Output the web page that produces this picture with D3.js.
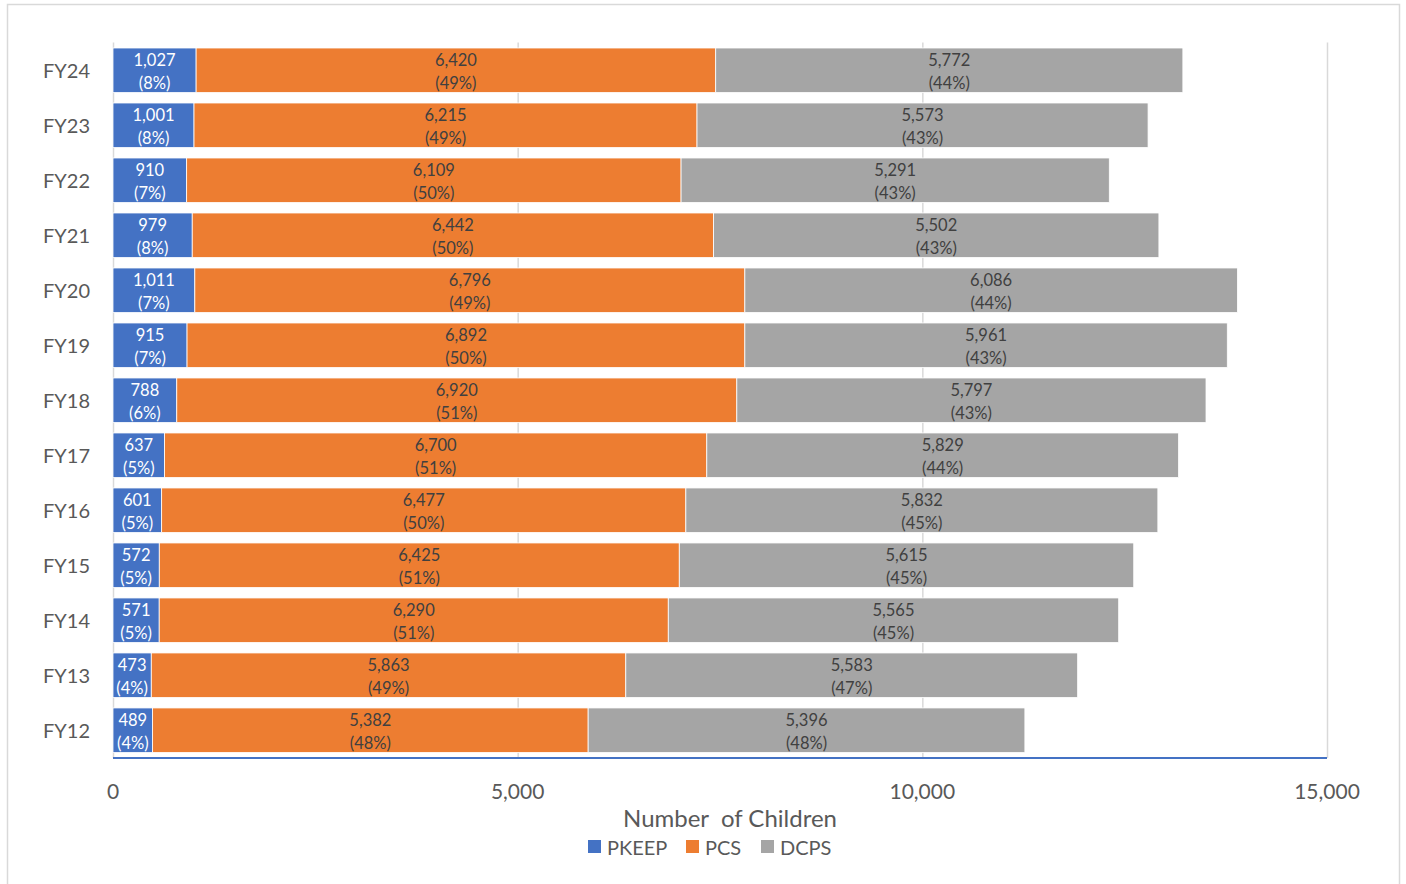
<!DOCTYPE html>
<html>
<head>
<meta charset="utf-8">
<script src="https://cdn.jsdelivr.net/npm/d3@7"></script>
<style>
  html, body { margin: 0; padding: 0; background: #fff; }
  svg { display: block; font-family: Lato, "Open Sans", sans-serif; }
</style>
</head>
<body>
<svg id="chart" width="1406" height="884"></svg>
<script>
// Fiscal years, top to bottom
const years = ["FY24","FY23","FY22","FY21","FY20","FY19","FY18","FY17","FY16","FY15","FY14","FY13","FY12"];
// Number of children by sector
const pkeep = [1027, 1001, 910, 979, 1011, 915, 788, 637, 601, 572, 571, 473, 489];
const pcs   = [6420, 6215, 6109, 6442, 6796, 6892, 6920, 6700, 6477, 6425, 6290, 5863, 5382];
const dcps  = [5772, 5573, 5291, 5502, 6086, 5961, 5797, 5829, 5832, 5615, 5565, 5583, 5396];
// Share of total, as reported
const pkeepPct = [8, 8, 7, 8, 7, 7, 6, 5, 5, 5, 5, 4, 4];
const pcsPct   = [49, 49, 50, 50, 49, 50, 51, 51, 50, 51, 51, 49, 48];
const dcpsPct  = [44, 43, 43, 43, 44, 43, 43, 44, 45, 45, 45, 47, 48];
const xTicks = [0, 5000, 10000, 15000];
const seriesNames = ["PKEEP", "PCS", "DCPS"];
const seriesColors = ["#4472C4", "#ED7D31", "#A5A5A5"];

const svg = d3.select("#chart");

// Outer chart frame
svg.append("rect")
  .attr("x", 7.5).attr("y", 4.5).attr("width", 1392).attr("height", 900)
  .attr("fill", "#fff").attr("stroke", "#d9d9d9").attr("stroke-width", 1.5);

const plotLeft = 113, plotRight = 1327, plotTop = 42.5, plotBottom = 758;

const x = d3.scaleLinear().domain([0, 15000]).range([plotLeft, plotRight]);
const y = d3.scaleBand().domain(years).range([plotTop, plotBottom]).paddingInner(0.19).paddingOuter(0.1);

// Vertical gridlines
svg.append("g").selectAll("line").data(xTicks).join("line")
  .attr("x1", d => x(d) + 0.5).attr("x2", d => x(d) + 0.5)
  .attr("y1", plotTop).attr("y2", plotBottom)
  .attr("stroke", "#d9d9d9").attr("stroke-width", 1.5);

// Stacked rows
const rows = years.map((yr, i) => ({
  year: yr,
  segs: [
    { v: pkeep[i], p: pkeepPct[i], s: 0 },
    { v: pcs[i], p: pcsPct[i], s: 1 },
    { v: dcps[i], p: dcpsPct[i], s: 2 }
  ]
}));
rows.forEach(r => {
  let acc = 0;
  r.segs.forEach(s => { s.x0 = acc; acc += s.v; s.x1 = acc; });
});

const fmt = d3.format(",");

const rowG = svg.append("g").selectAll("g").data(rows).join("g");

rowG.selectAll("rect").data(r => r.segs.map(s => ({ ...s, year: r.year }))).join("rect")
  .attr("x", d => x(d.x0)).attr("width", d => x(d.x1) - x(d.x0))
  .attr("y", d => y(d.year)).attr("height", y.bandwidth())
  .attr("fill", d => seriesColors[d.s])
  .attr("stroke", "#fff").attr("stroke-width", 0.8);

const labelG = rowG.selectAll("g.lbl").data(r => r.segs.map(s => ({ ...s, year: r.year }))).join("g")
  .attr("class", "lbl")
  .attr("transform", d => `translate(${(x(d.x0) + x(d.x1)) / 2},${y(d.year) + y.bandwidth() / 2})`)
  .attr("fill", d => d.s === 0 ? "#fff" : "#404040")
  .attr("font-size", 16.5).attr("text-anchor", "middle");

labelG.append("text").attr("y", -10).attr("dominant-baseline", "central").text(d => fmt(d.v));
labelG.append("text").attr("y", 13).attr("dominant-baseline", "central").text(d => `(${d.p}%)`);

// Category labels
svg.append("g").selectAll("text").data(years).join("text")
  .attr("x", 90).attr("y", d => y(d) + y.bandwidth() / 2 - 0.5)
  .attr("text-anchor", "end").attr("dominant-baseline", "central")
  .attr("font-size", 20).attr("fill", "#595959")
  .text(d => d);

// Bottom axis line
svg.append("line")
  .attr("x1", plotLeft).attr("x2", plotRight).attr("y1", plotBottom).attr("y2", plotBottom)
  .attr("stroke", "#4472C4").attr("stroke-width", 2);

// Tick labels
svg.append("g").selectAll("text").data(xTicks).join("text")
  .attr("x", d => x(d)).attr("y", 790)
  .attr("text-anchor", "middle").attr("dominant-baseline", "central")
  .attr("font-size", 21).attr("fill", "#595959")
  .text(d => fmt(d));

// Axis title
svg.append("text")
  .attr("x", 730).attr("y", 817)
  .attr("text-anchor", "middle").attr("dominant-baseline", "central")
  .attr("font-size", 24).attr("fill", "#595959")
  .attr("xml:space", "preserve")
  .text("Number  of Children");

// Legend
const legendX = [588, 686, 761];
const lg = svg.append("g").selectAll("g").data(seriesNames).join("g")
  .attr("transform", (d, i) => `translate(${legendX[i]},847)`);
lg.append("rect").attr("x", 0).attr("y", -7).attr("width", 13).attr("height", 13)
  .attr("fill", (d, i) => seriesColors[i]);
lg.append("text").attr("x", 19).attr("y", 0)
  .attr("dominant-baseline", "central").attr("font-size", 20).attr("fill", "#595959")
  .text(d => d);
</script>
</body>
</html>
